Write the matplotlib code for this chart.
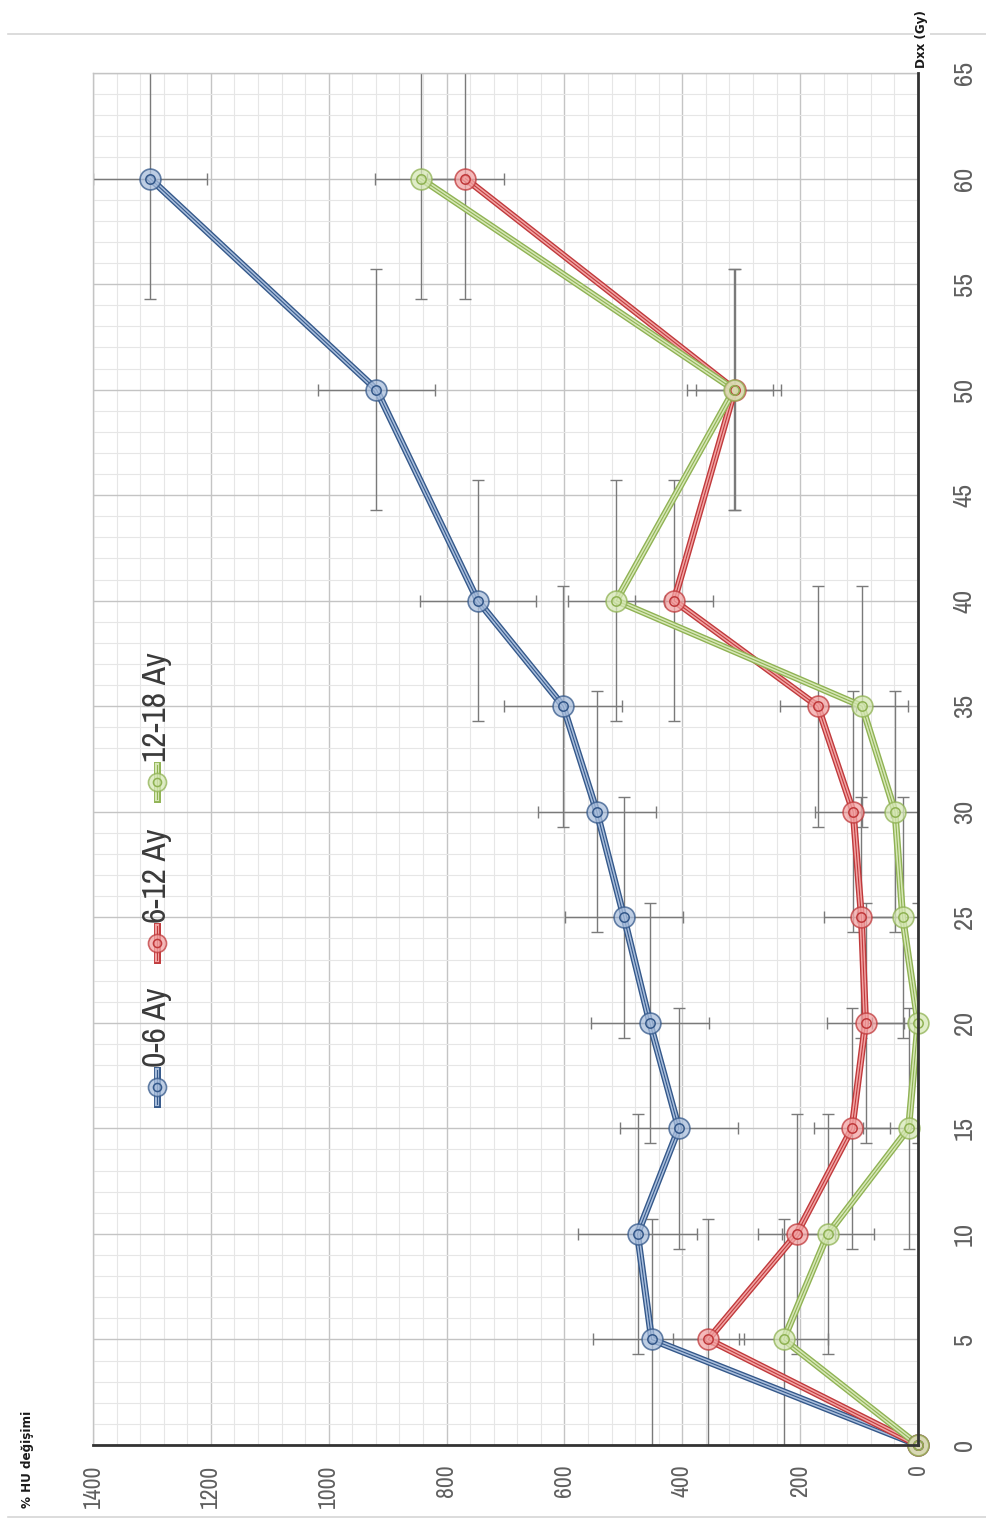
import numpy as np
import matplotlib
matplotlib.use("Agg")
from matplotlib import pyplot as plt
from matplotlib import font_manager
from matplotlib.lines import Line2D

# dose levels (Gy) and mean % HU change per follow-up window
doses = [0, 5, 10, 15, 20, 25, 30, 35, 40, 50, 60]
dose_err = [0, 5.7, 5.7, 5.7, 5.7, 5.7, 5.7, 5.7, 5.7, 5.7, 5.7]

hu_0_6 = [0, 452, 476, 406, 455, 499, 545, 602, 747, 919, 1303]
hu_6_12 = [0, 356, 206, 112, 89, 96, 110, 170, 414, 311, 768]
hu_12_18 = [0, 228, 153, 16, 0, 26, 39, 95, 512, 312, 844]

err_0_6 = [0, 100, 101, 100, 100, 100, 100, 100, 98, 100, 97]
err_6_12 = [0, 60, 65, 65, 65, 63, 65, 65, 66, 65, 66]
err_12_18 = [0, 76, 78, 78, 78, 78, 78, 78, 82, 80, 78]

labels = ["0-6 Ay", "6-12 Ay", "12-18 Ay"]
hu_ticks = [0, 200, 400, 600, 800, 1000, 1200, 1400]
dose_ticks = [0, 5, 10, 15, 20, 25, 30, 35, 40, 45, 50, 55, 60, 65]

dark_colors = ["#34588a", "#c0393b", "#8fb253"]
light_colors = ["#a9bedc", "#f2a4a4", "#d6e7b6"]

# prefer a narrow face if one is installed
names = sorted({f.name for f in font_manager.fontManager.ttflist})
narrow = [n for n in names if 'Narrow' in n or 'Condensed' in n]
plt.rcParams['font.family'] = narrow[:1] + ['DejaVu Sans']
plt.rcParams['font.stretch'] = 'condensed'

W, H = 986, 1521
fig = plt.figure(figsize=(W / 100, H / 100), dpi=100)
ax = fig.add_axes([93 / W, (H - 1445) / H, (918 - 93) / W, (1445 - 73) / H])

ax.set_xlim(1400, 0)
ax.set_ylim(0, 65)

ax.set_xticks(hu_ticks)
ax.set_xticklabels([str(t) for t in hu_ticks], rotation=90)
ax.set_xticks(np.arange(0, 1401, 40), minor=True)
ax.yaxis.tick_right()
ax.set_yticks(dose_ticks)
ax.set_yticklabels([str(t) for t in dose_ticks], rotation=90, va='center')
ax.set_yticks(np.arange(0, 66, 1), minor=True)
ax.tick_params(which='both', length=0)
ax.tick_params(axis='x', pad=14, labelsize=17, labelcolor='#5f5f5f')
ax.tick_params(axis='y', pad=25, labelsize=19, labelcolor='#5f5f5f')

ax.grid(which='major', color='#c4c4c4', lw=1.0, zorder=0)
ax.grid(which='minor', color='#e6e6e6', lw=0.8, zorder=0)
ax.set_axisbelow(True)

for side in ['top', 'left']:
    ax.spines[side].set_color('#c4c4c4')
    ax.spines[side].set_linewidth(1.0)
for side in ['bottom', 'right']:
    ax.spines[side].set_color('#333333')
    ax.spines[side].set_linewidth(2.0)
    ax.spines[side].set_zorder(6)

series = [hu_0_6, hu_6_12, hu_12_18]
errors = [err_0_6, err_6_12, err_12_18]

for hu, err in zip(series, errors):
    ax.errorbar(hu, doses, xerr=err, yerr=dose_err, fmt='none', ecolor='#7a7a7a',
                elinewidth=1.0, capsize=4, capthick=1.0, zorder=2)


def draw_line(ax, x, y, dark, light, **kw):
    ax.plot(x, y, color=dark, lw=5, solid_joinstyle='round', zorder=3, **kw)
    ax.plot(x, y, color=light, lw=3, solid_joinstyle='round', zorder=3, **kw)
    ax.plot(x, y, color=dark, lw=0.8, zorder=3, **kw)


def draw_markers(ax, x, y, dark, light, ms=15, **kw):
    ax.plot(x, y, ls='none', marker='o', ms=ms, mfc=light, mec=dark, mew=1.2,
            alpha=0.75, zorder=4, clip_on=False, **kw)
    ax.plot(x, y, ls='none', marker='o', ms=ms * 0.45, mfc='none', mec=dark,
            mew=1.1, zorder=5, clip_on=False, **kw)


for hu, dark, light in zip(series, dark_colors, light_colors):
    draw_line(ax, hu, doses, dark, light)
for hu, dark, light in zip(series, dark_colors, light_colors):
    draw_markers(ax, hu, doses, dark, light)

# legend, drawn sideways in the upper-left corner of the axes
key_x = 0.0776
key_y = [0.261, 0.366, 0.483]
for ky, label, dark, light in zip(key_y, labels, dark_colors, light_colors):
    seg = [ky - 0.0125, ky + 0.0125]
    draw_line(ax, [key_x, key_x], seg, dark, light, transform=ax.transAxes)
    draw_markers(ax, [key_x], [ky], dark, light, ms=13, transform=ax.transAxes)
    ax.text(key_x, ky + 0.0145, label, transform=ax.transAxes, rotation=90,
            ha='center', va='bottom', fontsize=24, color='#3a3a3a', zorder=6)

# axis titles (bold face from DejaVu, the narrow face has no bold)
fig.text(28 / W, 1 - 1508 / H, "% HU değişimi", rotation=90, ha='center', va='bottom',
         fontsize=9.5, fontweight='bold', color='#1a1a1a', family='DejaVu Sans',
         fontstretch='condensed')
fig.text(922 / W, 1 - 68 / H, "Dxx (Gy)", rotation=90, ha='center', va='bottom',
         fontsize=9.5, fontweight='bold', color='#1a1a1a', family='DejaVu Sans',
         fontstretch='condensed',
         bbox=dict(facecolor='white', edgecolor='none', pad=1))

# page rules above and below the chart
for yy in [34, 1517]:
    fig.add_artist(Line2D([8 / W, 1.0], [1 - yy / H, 1 - yy / H], transform=fig.transFigure,
                          color='#d6d6d6', lw=1.2, zorder=0))

fig.savefig("out.png", dpi=100)
